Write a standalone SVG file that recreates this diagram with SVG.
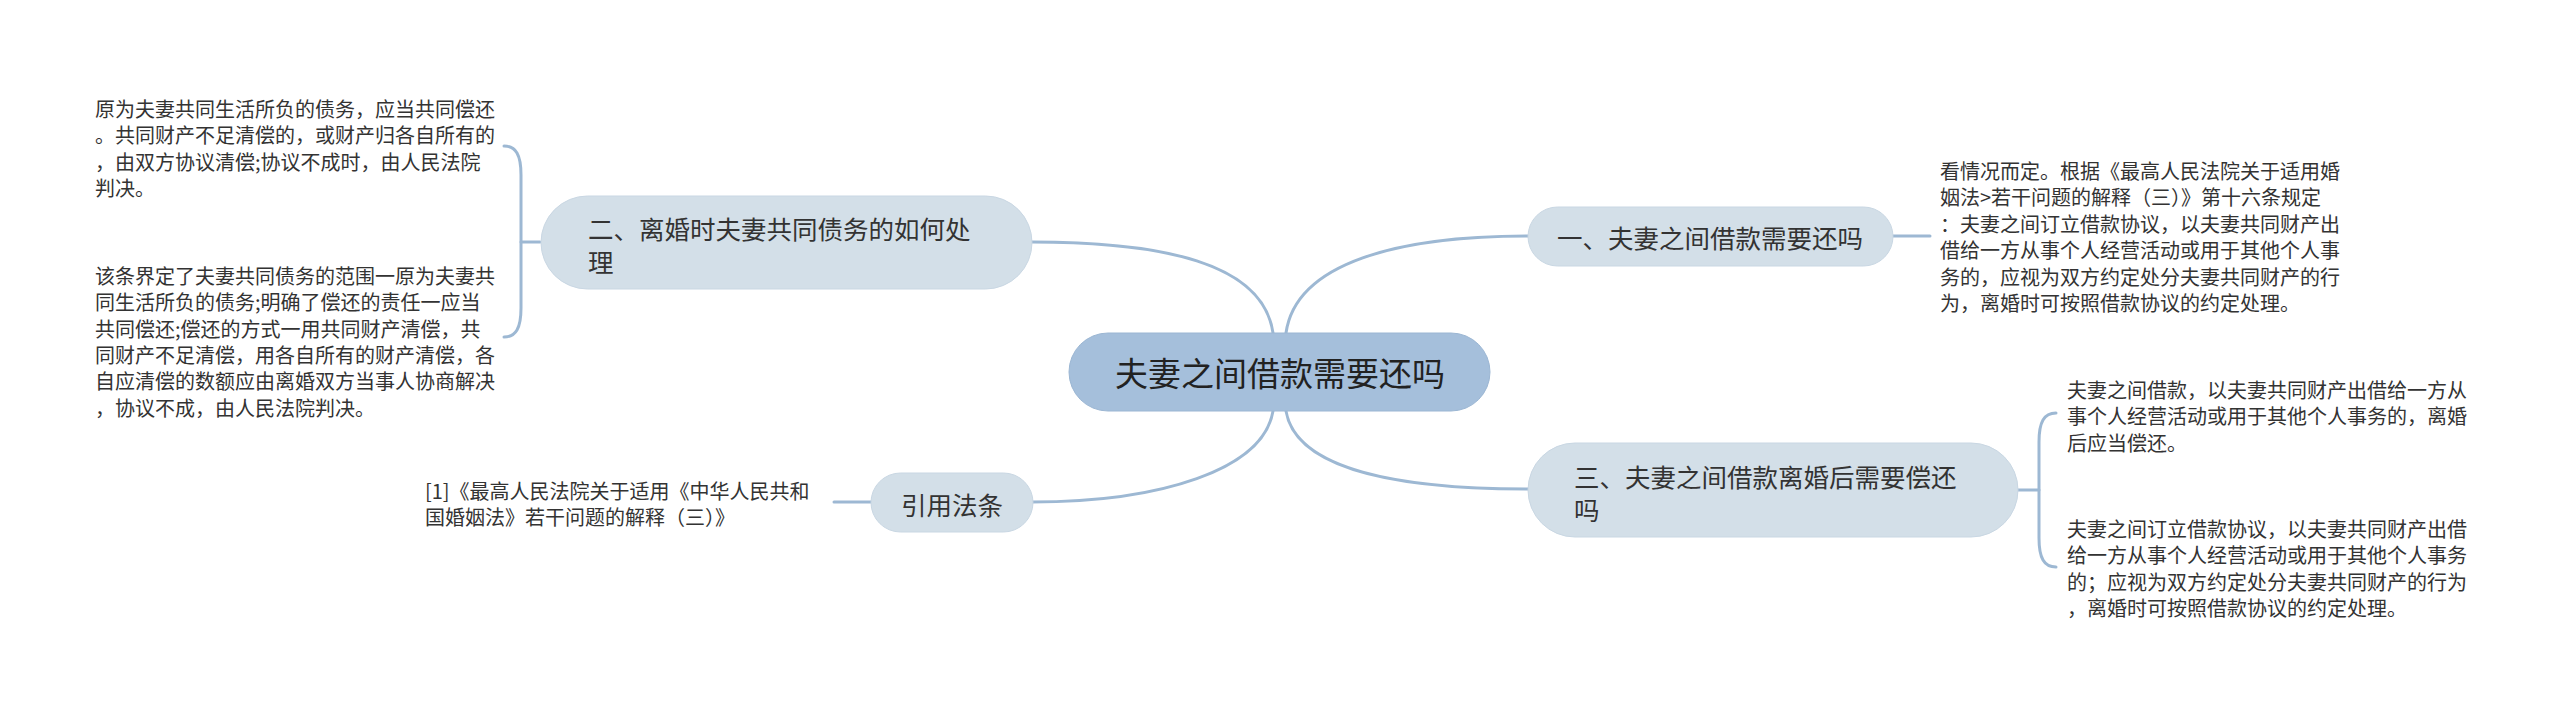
<svg xmlns="http://www.w3.org/2000/svg" width="2560" height="713" viewBox="0 0 2560 713">
<style>
text{font-family:"Noto Sans CJK SC","Noto Sans",sans-serif;fill:#333;dominant-baseline:central}
.leaf{font-size:20px}
.br{font-size:25.5px}
.root{font-size:33px;fill:#222}
.bnode{fill:#d3dfe8;stroke:#c9d7e3;stroke-width:1}
.rnode{fill:#a5bfdb;stroke:#9bb6d3;stroke-width:1}
.conn path{fill:none;stroke:#9db8d3;stroke-width:3;stroke-linecap:round}
</style>
<rect width="2560" height="713" fill="#ffffff"/>
<g id="connectors" class="conn">
<path d="M1286,333 C1296,262 1400,236 1528,236"/>
<path d="M1273,333 C1263,262 1160,242 1032,242"/>
<path d="M1286,411 C1296,470 1400,489 1528,489"/>
<path d="M1273,411 C1263,470 1160,502 1032,502"/>
<path d="M1893,236 H1930"/>
<path d="M871,502 H834"/>
<path d="M540,242 H521"/>
<path d="M504,146 C516,146 521,155 521,175 V308 C521,328 516,337 504,337"/>
<path d="M2018,490 H2039"/>
<path d="M2056,413 C2044,413 2039,422 2039,442 V538 C2039,558 2044,567 2056,567"/>
</g>
<g id="root">
<rect class="rnode" x="1069" y="333" width="421" height="78" rx="39"/>
<text class="root" x="1280" y="372" text-anchor="middle">夫妻之间借款需要还吗</text>
</g>
<g id="n1">
<rect class="bnode" x="1528" y="207" width="365" height="59" rx="29.5"/>
<text class="br" x="1557" y="236">一、夫妻之间借款需要还吗</text>
</g>
<g id="n2">
<rect class="bnode" x="541" y="196" width="491" height="93" rx="46.5"/>
<text class="br" x="588" y="227">二、离婚时夫妻共同债务的如何处</text>
<text class="br" x="588" y="260">理</text>
</g>
<g id="n3">
<rect class="bnode" x="1528" y="443" width="490" height="94" rx="47"/>
<text class="br" x="1574" y="475">三、夫妻之间借款离婚后需要偿还</text>
<text class="br" x="1574" y="508">吗</text>
</g>
<g id="n4">
<rect class="bnode" x="871" y="473" width="162" height="59" rx="29.5"/>
<text class="br" x="952" y="503" text-anchor="middle">引用法条</text>
</g>
<g id="leaf1">
<text class="leaf" x="1940" y="170">看情况而定。根据《最高人民法院关于适用婚</text>
<text class="leaf" x="1940" y="196">姻法&gt;若干问题的解释（三）》第十六条规定</text>
<text class="leaf" x="1940" y="223">：夫妻之间订立借款协议，以夫妻共同财产出</text>
<text class="leaf" x="1940" y="249">借给一方从事个人经营活动或用于其他个人事</text>
<text class="leaf" x="1940" y="276">务的，应视为双方约定处分夫妻共同财产的行</text>
<text class="leaf" x="1940" y="302">为，离婚时可按照借款协议的约定处理。</text>
</g>
<g id="leaf2">
<text class="leaf" x="95" y="108">原为夫妻共同生活所负的债务，应当共同偿还</text>
<text class="leaf" x="95" y="134">。共同财产不足清偿的，或财产归各自所有的</text>
<text class="leaf" x="95" y="161">，由双方协议清偿;协议不成时，由人民法院</text>
<text class="leaf" x="95" y="187">判决。</text>
</g>
<g id="leaf3">
<text class="leaf" x="95" y="275">该条界定了夫妻共同债务的范围一原为夫妻共</text>
<text class="leaf" x="95" y="301">同生活所负的债务;明确了偿还的责任一应当</text>
<text class="leaf" x="95" y="328">共同偿还;偿还的方式一用共同财产清偿，共</text>
<text class="leaf" x="95" y="354">同财产不足清偿，用各自所有的财产清偿，各</text>
<text class="leaf" x="95" y="380">自应清偿的数额应由离婚双方当事人协商解决</text>
<text class="leaf" x="95" y="407">，协议不成，由人民法院判决。</text>
</g>
<g id="leaf4">
<text class="leaf" x="2067" y="389">夫妻之间借款，以夫妻共同财产出借给一方从</text>
<text class="leaf" x="2067" y="415">事个人经营活动或用于其他个人事务的，离婚</text>
<text class="leaf" x="2067" y="442">后应当偿还。</text>
</g>
<g id="leaf5">
<text class="leaf" x="2067" y="528">夫妻之间订立借款协议，以夫妻共同财产出借</text>
<text class="leaf" x="2067" y="554">给一方从事个人经营活动或用于其他个人事务</text>
<text class="leaf" x="2067" y="581">的；应视为双方约定处分夫妻共同财产的行为</text>
<text class="leaf" x="2067" y="607">，离婚时可按照借款协议的约定处理。</text>
</g>
<g id="leaf6">
<text class="leaf" x="425" y="490">[1]《最高人民法院关于适用《中华人民共和</text>
<text class="leaf" x="425" y="516">国婚姻法》若干问题的解释（三）》</text>
</g>
</svg>
